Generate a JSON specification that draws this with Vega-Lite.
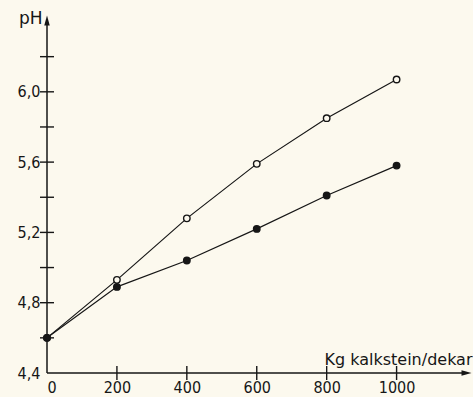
{
  "$schema": "https://vega.github.io/schema/vega-lite/v6.json",
  "width": 423,
  "height": 355,
  "autosize": {"type": "none"},
  "padding": {"left": 47, "top": 18, "right": 3, "bottom": 24},
  "background": "#fcf9ee",
  "config": {"view": {"stroke": null}, "font": "DejaVu Sans"},
  "datasets": {
    "series": [
      {"x": 0, "y": 4.6, "series": "open"},
      {"x": 200, "y": 4.93, "series": "open"},
      {"x": 400, "y": 5.28, "series": "open"},
      {"x": 600, "y": 5.59, "series": "open"},
      {"x": 800, "y": 5.85, "series": "open"},
      {"x": 1000, "y": 6.07, "series": "open"},
      {"x": 0, "y": 4.6, "series": "filled"},
      {"x": 200, "y": 4.89, "series": "filled"},
      {"x": 400, "y": 5.04, "series": "filled"},
      {"x": 600, "y": 5.22, "series": "filled"},
      {"x": 800, "y": 5.41, "series": "filled"},
      {"x": 1000, "y": 5.58, "series": "filled"}
    ],
    "axes": [
      {"x": 0, "y": 4.4, "x2": 1200, "y2": 4.4},
      {"x": 0, "y": 4.4, "x2": 0, "y2": 6.4}
    ],
    "yticks": [
      {"x": 0, "y": 4.6}, {"x": 0, "y": 4.8}, {"x": 0, "y": 5.0}, {"x": 0, "y": 5.2},
      {"x": 0, "y": 5.4}, {"x": 0, "y": 5.6}, {"x": 0, "y": 5.8}, {"x": 0, "y": 6.0},
      {"x": 0, "y": 6.2}
    ],
    "xticks": [
      {"x": 200, "y": 4.4}, {"x": 400, "y": 4.4}, {"x": 600, "y": 4.4},
      {"x": 800, "y": 4.4}, {"x": 1000, "y": 4.4}
    ],
    "arrows": [
      {"x": 1200, "y": 4.4, "shape": "M1,0L-1,-0.55L-1,0.55Z"},
      {"x": 0, "y": 6.406, "shape": "M0,-1L0.55,1L-0.55,1Z"}
    ]
  },
  "encoding": {
    "x": {
      "field": "x", "type": "quantitative",
      "scale": {"domain": [0, 1210], "nice": false, "zero": false},
      "axis": {
        "values": [0, 200, 400, 600, 800, 1000],
        "format": "d",
        "domain": false, "grid": false, "ticks": false, "tickSize": 0,
        "labelFontSize": 16, "labelPadding": 6, "labelColor": "#161616",
        "labelFont": "DejaVu Sans Condensed, DejaVu Sans",
        "title": "Kg kalkstein/dekar",
        "titleFont": "DejaVu Sans",
        "titleFontSize": 16, "titleFontWeight": "normal", "titleColor": "#161616",
        "titleAlign": "right", "titleBaseline": "alphabetic",
        "titleX": 425, "titleY": -9
      }
    },
    "y": {
      "field": "y", "type": "quantitative",
      "scale": {"domain": [4.4, 6.42], "nice": false, "zero": false},
      "axis": {
        "values": [4.4, 4.8, 5.2, 5.6, 6.0],
        "labelExpr": "replace(format(datum.value, '.1f'), '.', ',')",
        "domain": false, "grid": false, "ticks": false, "tickSize": 0,
        "labelFontSize": 16, "labelPadding": 7, "labelColor": "#161616",
        "labelFont": "DejaVu Sans Condensed, DejaVu Sans",
        "title": "pH",
        "titleFont": "DejaVu Sans",
        "titleFontSize": 17, "titleFontWeight": "normal", "titleColor": "#161616",
        "titleAngle": 0, "titleAlign": "right", "titleBaseline": "alphabetic",
        "titleX": -5, "titleY": 5
      }
    }
  },
  "layer": [
    {
      "data": {"name": "axes"},
      "mark": {"type": "rule", "color": "#161616", "strokeWidth": 1.5},
      "encoding": {
        "x2": {"field": "x2"},
        "y2": {"field": "y2"}
      }
    },
    {
      "data": {"name": "yticks"},
      "mark": {"type": "tick", "orient": "horizontal", "size": 14, "thickness": 1.4, "color": "#161616", "opacity": 1}
    },
    {
      "data": {"name": "xticks"},
      "mark": {"type": "tick", "orient": "vertical", "size": 14, "thickness": 1.4, "color": "#161616", "opacity": 1}
    },
    {
      "data": {"name": "arrows"},
      "mark": {"type": "point", "filled": true, "color": "#161616", "size": 100, "opacity": 1},
      "encoding": {
        "shape": {"field": "shape", "type": "nominal", "scale": null}
      }
    },
    {
      "data": {"name": "series"},
      "mark": {"type": "line", "color": "#161616", "strokeWidth": 1.2},
      "encoding": {
        "detail": {"field": "series", "type": "nominal"}
      }
    },
    {
      "data": {"name": "series"},
      "mark": {"type": "point", "shape": "circle", "size": 42, "stroke": "#161616", "strokeWidth": 1.4, "opacity": 1},
      "encoding": {
        "fill": {
          "field": "series", "type": "nominal",
          "scale": {"domain": ["open", "filled"], "range": ["#fcf9ee", "#161616"]},
          "legend": null
        }
      }
    }
  ]
}
